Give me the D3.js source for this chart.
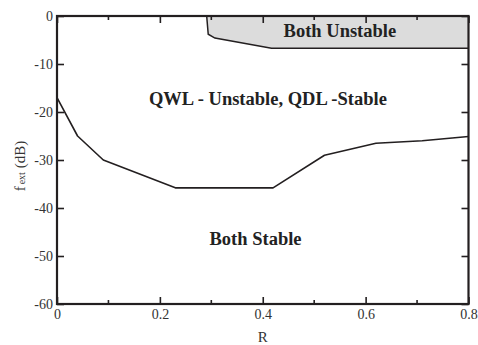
<!DOCTYPE html>
<html>
<head>
<meta charset="utf-8">
<script src="https://cdn.jsdelivr.net/npm/d3@7"></script>
<style>
  html, body { margin: 0; padding: 0; background: #fff; }
  svg, svg text { font-family: "Liberation Serif", "Times New Roman", serif; }
  svg { display: block; }
</style>
</head>
<body>
<svg id="chart" width="478" height="345"></svg>
<script>
// Axis ticks
const xMajorTicks = [0, 0.2, 0.4, 0.6, 0.8];
const xMinorTicks = [0.1, 0.3, 0.5, 0.7];
const yTicks = [0, -10, -20, -30, -40, -50, -60];

// Boundary between "both stable" and "QWL unstable / QDL stable"
const lowerR = [0, 0.04, 0.09, 0.23, 0.42, 0.52, 0.62, 0.71, 0.8];
const lowerF = [-17, -25, -30, -35.8, -35.8, -29, -26.5, -26, -25.1];

// Boundary of the "both unstable" region
const upperR = [0.291, 0.294, 0.307, 0.417, 0.8];
const upperF = [0, -3.8, -4.6, -6.7, -6.7];

// Region labels
const regionText = ["Both Unstable", "QWL - Unstable, QDL -Stable", "Both Stable"];
const regionR = [0.55, 0.41, 0.386];
const regionF = [-4.3, -18.5, -47.8];

const svg = d3.select("#chart");
const pLeft = 57, pRight = 468.5, pTop = 16, pBottom = 304;

const x = d3.scaleLinear().domain([0, 0.8]).range([pLeft, pRight]);
const y = d3.scaleLinear().domain([0, -60]).range([pTop, pBottom]);

const ink = "#231f20";

// Shaded region above the upper boundary
const upperPts = upperR.map((r, i) => [x(r), y(upperF[i])]);
const polyPts = upperPts.concat([[x(0.8), y(0)]]);
svg.append("path")
  .attr("d", d3.line()(polyPts) + "Z")
  .attr("fill", "#dcdcdc")
  .attr("stroke", "none");
svg.append("path")
  .attr("d", d3.line()(upperPts))
  .attr("fill", "none")
  .attr("stroke", ink)
  .attr("stroke-width", 1.5);

// Lower boundary curve
svg.append("path")
  .attr("d", d3.line().x((d, i) => x(lowerR[i])).y((d, i) => y(lowerF[i]))(lowerR))
  .attr("fill", "none")
  .attr("stroke", ink)
  .attr("stroke-width", 1.6)
  .attr("stroke-linejoin", "round");

// Axes (ticks pointing inward), plain hyphen-minus in labels
const fontSize = 14;
const bottomAxis = d3.axisBottom(x).tickValues(xMajorTicks).tickSize(-7).tickPadding(5)
  .tickFormat(d => d === 0 ? "0" : d.toFixed(1));
const topAxis = d3.axisTop(x).tickValues(xMajorTicks).tickSize(-7).tickFormat("");
const leftAxis = d3.axisLeft(y).tickValues(yTicks).tickSize(-7).tickPadding(4).tickFormat(d => String(d));
const rightAxis = d3.axisRight(y).tickValues(yTicks).tickSize(-7).tickFormat("");

function style(g) {
  g.attr("font-family", null).attr("font-size", null);
  g.select(".domain").remove();
  g.selectAll(".tick line").attr("stroke", ink).attr("stroke-width", 1.6);
  g.selectAll(".tick text").attr("fill", "#333").attr("font-size", fontSize);
}

svg.append("g").attr("transform", `translate(0,${pBottom})`).call(bottomAxis).call(style);
svg.append("g").attr("transform", `translate(0,${pTop})`).call(topAxis).call(style);
svg.append("g").attr("transform", `translate(${pLeft},0)`).call(leftAxis).call(style);
svg.append("g").attr("transform", `translate(${pRight},0)`).call(rightAxis).call(style);

// Minor x ticks
[[pBottom, -4], [pTop, 4]].forEach(([yy, len]) => {
  svg.append("g").selectAll("line").data(xMinorTicks).join("line")
    .attr("x1", d => x(d)).attr("x2", d => x(d))
    .attr("y1", yy).attr("y2", yy + len)
    .attr("stroke", ink).attr("stroke-width", 1.6);
});

// Frame
svg.append("rect")
  .attr("x", pLeft).attr("y", pTop)
  .attr("width", pRight - pLeft).attr("height", pBottom - pTop)
  .attr("fill", "none").attr("stroke", ink).attr("stroke-width", 2.2);

// Region labels
svg.append("g").selectAll("text").data(regionText).join("text")
  .attr("x", (d, i) => x(regionR[i]))
  .attr("y", (d, i) => y(regionF[i]))
  .attr("text-anchor", "middle")
  .attr("font-weight", "bold")
  .attr("font-size", 18.5)
  .attr("fill", "#222")
  .text(d => d);

// Axis titles
svg.append("text")
  .attr("x", (pLeft + pRight) / 2).attr("y", 342)
  .attr("text-anchor", "middle")
  .attr("font-size", 15).attr("fill", "#333")
  .text("R");

const yTitle = svg.append("text")
  .attr("transform", `translate(25,${(pTop + pBottom) / 2 + 6}) rotate(-90)`)
  .attr("text-anchor", "middle")
  .attr("font-size", 15).attr("fill", "#333");
yTitle.append("tspan").text("f");
yTitle.append("tspan").attr("font-size", 10).attr("dx", 2).text("ext");
yTitle.append("tspan").attr("dx", 4).text("(dB)");
</script>
</body>
</html>
